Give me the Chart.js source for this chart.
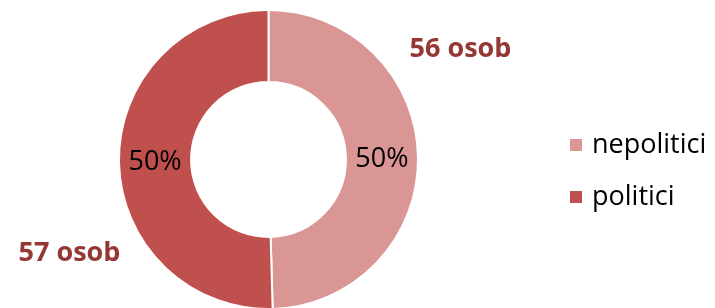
<!DOCTYPE html>
<html>
<head>
<meta charset="utf-8">
<script src="https://cdn.jsdelivr.net/npm/chart.js@4"></script>
<style>
  html, body { margin: 0; padding: 0; background: #fff; overflow: hidden; }
  #wrap { width: 715px; height: 312px; position: relative; }
</style>
</head>
<body>
<div id="wrap"><canvas id="donutChart"></canvas></div>
<script>
// --- DATOS ---
const kategorie = ['nepolitici', 'politici'];
const pocty = [56, 57];
const popisky = ['56 osob', '57 osob'];
const barvy = ['#D99694', '#C0504D'];

const FONT = '"Open Sans", sans-serif';

// popisky procent, "osob" a legenda
const popiskyPlugin = {
    id: 'popisky',
    afterDraw(chart) {
        const ctx = chart.ctx;
        const meta = chart.getDatasetMeta(0);
        const total = pocty.reduce((a, b) => a + b, 0);
        ctx.save();
        ctx.textAlign = 'center';
        ctx.textBaseline = 'middle';

        meta.data.forEach((arc, i) => {
            const p = arc.getProps(['x', 'y', 'startAngle', 'endAngle', 'innerRadius', 'outerRadius'], true);
            const mid = (p.startAngle + p.endAngle) / 2;
            const r = (p.innerRadius + p.outerRadius) / 2;
            const pct = Math.round(pocty[i] / total * 100) + '%';
            ctx.fillStyle = '#000';
            ctx.font = '27px ' + FONT;
            ctx.fillText(pct, p.x + Math.cos(mid) * r, p.y + Math.sin(mid) * r + 1);
        });

        // popisky mimo prstenec
        const c = meta.data[0];
        ctx.fillStyle = '#953735';
        ctx.font = 'bold 27px ' + FONT;
        ctx.fillText(popisky[0], c.x + 192, c.y - 110);
        ctx.fillText(popisky[1], c.x - 199, c.y + 94);

        // legenda
        ctx.textAlign = 'left';
        ctx.font = '27px ' + FONT;
        kategorie.forEach((k, i) => {
            const y = 145 + i * 52;
            ctx.fillStyle = barvy[i];
            ctx.fillRect(570, y - 6, 12, 12);
            ctx.fillStyle = '#000';
            ctx.fillText(k, 592, y);
        });
        ctx.restore();
    }
};

const ctx = document.getElementById('donutChart').getContext('2d');
new Chart(ctx, {
    type: 'doughnut',
    data: {
        labels: kategorie,
        datasets: [{
            data: pocty,
            backgroundColor: barvy,
            borderColor: '#ffffff',
            borderWidth: 2,
            hoverOffset: 0
        }]
    },
    options: {
        responsive: true,
        maintainAspectRatio: false,
        animation: false,
        cutout: '51.8%',
        layout: {
            padding: { left: 118, right: 296, top: 9, bottom: 2 }
        },
        plugins: {
            legend: { display: false },
            tooltip: { enabled: false }
        }
    },
    plugins: [popiskyPlugin]
});
</script>
</body>
</html>
